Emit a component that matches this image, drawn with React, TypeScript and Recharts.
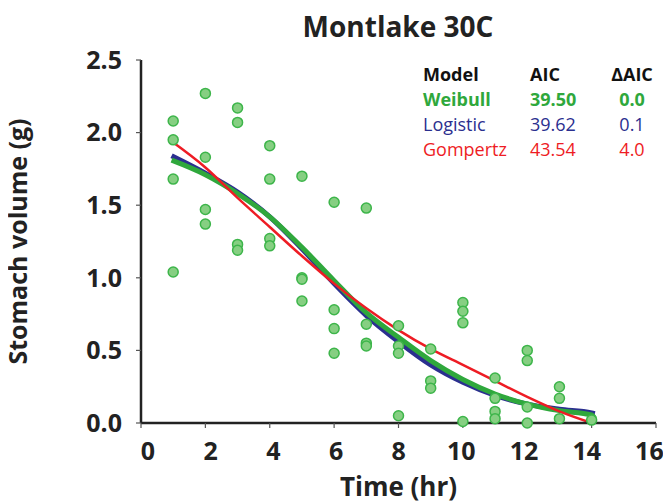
import { ComposedChart, Line, Scatter, XAxis, YAxis } from "recharts";

// observed stomach volumes (g) by hour
const obsTime = [
  1, 1, 1, 1,
  2, 2, 2, 2,
  3, 3, 3, 3,
  4, 4, 4, 4,
  5, 5, 5, 5,
  6, 6, 6, 6,
  7, 7, 7, 7,
  8, 8, 8, 8,
  9, 9, 9,
  10, 10, 10, 10,
  11, 11, 11, 11,
  12, 12, 12, 12,
  13, 13, 13,
  14,
];
const obsVolume = [
  2.08, 1.95, 1.68, 1.04,
  2.27, 1.83, 1.47, 1.37,
  2.17, 2.07, 1.23, 1.19,
  1.91, 1.68, 1.27, 1.22,
  1.7, 1.0, 0.99, 0.84,
  1.52, 0.78, 0.65, 0.48,
  1.48, 0.68, 0.55, 0.53,
  0.67, 0.53, 0.48, 0.05,
  0.51, 0.29, 0.24,
  0.83, 0.77, 0.69, 0.01,
  0.31, 0.17, 0.08, 0.03,
  0.5, 0.43, 0.11, 0.0,
  0.25, 0.17, 0.03,
  0.02,
];

// fitted curves
const curveTime = [0.95, 2, 3, 4, 5, 6, 7, 8, 9, 10, 11, 12, 13, 14, 14.1];
const weibull = [1.81, 1.71, 1.58, 1.42, 1.21, 0.98, 0.76, 0.59, 0.43, 0.3, 0.2, 0.13, 0.085, 0.055, 0.03];
const logistic = [1.84, 1.72, 1.59, 1.42, 1.2, 0.96, 0.74, 0.56, 0.4, 0.28, 0.19, 0.13, 0.095, 0.07, 0.065];
const gompertz = [1.94, 1.76, 1.55, 1.35, 1.15, 0.96, 0.79, 0.64, 0.51, 0.4, 0.29, 0.18, 0.08, 0.0];

const modelNames = ["Weibull", "Logistic", "Gompertz"];
const aicValues = [39.5, 39.62, 43.54];
const deltaAic = [0.0, 0.1, 4.0];

const xTicks = [0, 2, 4, 6, 8, 10, 12, 14, 16];
const yTicks = [0, 0.5, 1, 1.5, 2, 2.5];

const GREEN = "#2fa83c";
const BLUE = "#2b2f8f";
const RED = "#ee1c24";
const rowColors = [GREEN, BLUE, RED];
const FONT = "'Open Sans', sans-serif";

const points = obsTime.map((t, i) => ({ t, v: obsVolume[i] }));
const toSeries = (vals: number[]) => vals.map((v, i) => ({ t: curveTime[i], v }));

const dot = (p: any) => (
  <circle cx={p.cx} cy={p.cy} r={5} fill="#86cf82" stroke="#3db54a" strokeWidth={1.5} />
);

const tickStyle = { fontFamily: FONT, fontSize: 25, fontWeight: 700, fill: "#222" };

// x labels in the original sit a little off their ticks, drifting left toward 16
const XTick = (p: any) => {
  const val = p.payload.value;
  return (
    <text
      x={p.x + 7 - val * 0.85}
      y={p.y}
      dy="0.75em"
      textAnchor="middle"
      style={tickStyle}
    >
      {val}
    </text>
  );
};

export default function App() {
  return (
    <div style={{ position: "relative", width: 663, height: 496, fontFamily: FONT }}>
      <style>{".recharts-surface{overflow:visible}"}</style>
      <div
        style={{
          position: "absolute",
          left: 290,
          top: 4,
          width: 200,
          textAlign: "center",
          fontSize: 28,
          lineHeight: "28px",
          fontWeight: 700,
          color: "#222",
          whiteSpace: "nowrap",
        }}
      >
        Montlake 30C
      </div>

      <ComposedChart width={663} height={496} margin={{ top: 52, right: 15, left: 0, bottom: 0 }}>
        <XAxis
          dataKey="t"
          type="number"
          domain={[0, 16]}
          ticks={xTicks}
          height={81}
          tickSize={5}
          tickMargin={13}
          tick={<XTick />}
          axisLine={{ stroke: "#222", strokeWidth: 2.5 }}
          tickLine={{ stroke: "#555", strokeWidth: 1.2 }}
          allowDuplicatedCategory={false}
          label={{
            value: "Time (hr)",
            position: "insideBottom",
            offset: 8,
            style: { fontFamily: FONT, fontSize: 26, fontWeight: 700, fill: "#222" },
          }}
        />
        <YAxis
          type="number"
          domain={[0, 2.5]}
          ticks={yTicks}
          width={133}
          tickSize={5}
          tickMargin={14}
          tick={tickStyle}
          tickFormatter={(v: number) => v.toFixed(1)}
          axisLine={{ stroke: "#222", strokeWidth: 2.5 }}
          tickLine={{ stroke: "#555", strokeWidth: 1.2 }}
          label={{
            value: "Stomach volume (g)",
            angle: -90,
            position: "insideLeft",
            offset: 10,
            style: { fontFamily: FONT, fontSize: 25, fontWeight: 700, fill: "#222", textAnchor: "middle" },
          }}
        />
        <Line
          data={toSeries(logistic)}
          dataKey="v"
          type="monotone"
          stroke={BLUE}
          strokeWidth={5}
          dot={false}
          isAnimationActive={false}
        />
        <Line
          data={toSeries(weibull)}
          dataKey="v"
          type="monotone"
          stroke={GREEN}
          strokeWidth={5}
          dot={false}
          isAnimationActive={false}
        />
        <Line
          data={toSeries(gompertz)}
          dataKey="v"
          type="monotone"
          stroke={RED}
          strokeWidth={2.5}
          dot={false}
          isAnimationActive={false}
        />
        <Scatter data={points} dataKey="v" shape={dot} isAnimationActive={false} />
      </ComposedChart>

      <div style={{ position: "absolute", left: 0, top: 0, fontSize: 18, lineHeight: "18px" }}>
        <div style={{ position: "absolute", left: 415, top: 57, fontWeight: 700, color: "#111" }}>Model</div>
        <div style={{ position: "absolute", left: 522, top: 57, fontWeight: 700, color: "#111" }}>AIC</div>
        <div
          style={{ position: "absolute", left: 584, width: 80, textAlign: "center", top: 57, fontWeight: 700, color: "#111" }}
        >
          ΔAIC
        </div>
        {modelNames.map((name, i) => {
          const top = 82 + i * 25;
          const weight = i === 0 ? 700 : 400;
          return (
            <div key={name}>
              <div style={{ position: "absolute", left: 415, top, fontWeight: weight, color: rowColors[i] }}>{name}</div>
              <div style={{ position: "absolute", left: 522, top, fontWeight: weight, color: rowColors[i] }}>
                {aicValues[i].toFixed(2)}
              </div>
              <div
                style={{
                  position: "absolute",
                  left: 584,
                  width: 80,
                  textAlign: "center",
                  top,
                  fontWeight: weight,
                  color: rowColors[i],
                }}
              >
                {deltaAic[i].toFixed(1)}
              </div>
            </div>
          );
        })}
      </div>
    </div>
  );
}
